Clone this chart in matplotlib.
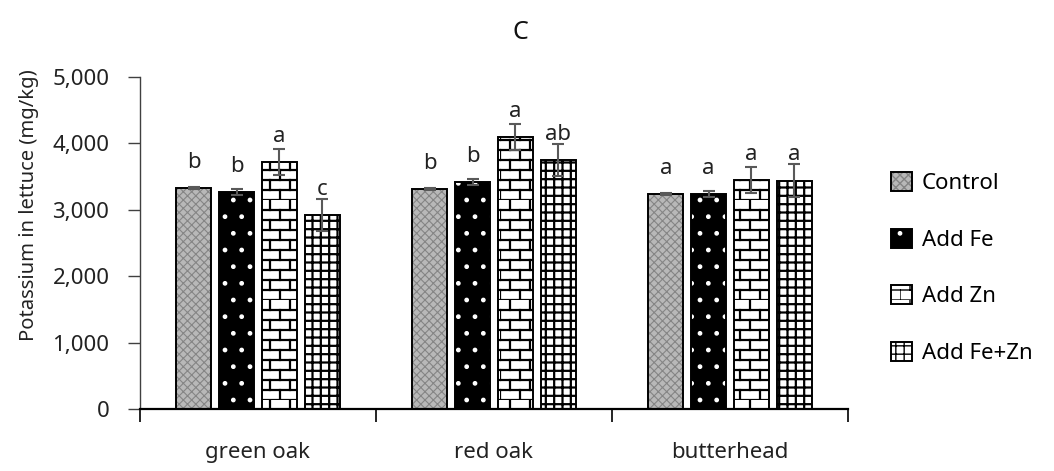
import matplotlib
matplotlib.use('Agg')
import matplotlib.pyplot as plt
from matplotlib import hatch as mhatch
from matplotlib.path import Path
from matplotlib.patches import Patch
from matplotlib.legend_handler import HandlerTuple
from matplotlib.ticker import FuncFormatter
import numpy as np

# data
cultivars = ['green oak', 'red oak', 'butterhead']
treatments = ['Control', 'Add Fe', 'Add Zn', 'Add Fe+Zn']
control = [3330, 3310, 3240]
add_fe = [3270, 3420, 3240]
add_zn = [3720, 4095, 3450]
add_fezn = [2925, 3750, 3440]
control_err = [15, 15, 20]
add_fe_err = [45, 50, 45]
add_zn_err = [190, 195, 200]
add_fezn_err = [240, 240, 245]
control_lbl = ['b', 'b', 'a']
add_fe_lbl = ['b', 'b', 'a']
add_zn_lbl = ['a', 'a', 'a']
add_fezn_lbl = ['c', 'ab', 'a']

means = [control, add_fe, add_zn, add_fezn]
errs = [control_err, add_fe_err, add_zn_err, add_fezn_err]
letters = [control_lbl, add_fe_lbl, add_zn_lbl, add_fezn_lbl]


# brick hatch ('b') - matplotlib has none
class BrickHatch(mhatch.HatchPatternBase):
    def __init__(self, hatch, density):
        n = hatch.count('b')
        self.rows = 10 * n
        self.cols = 5
        self.num_vertices = (self.rows * 2 + self.rows * self.cols * 2) if n else 0

    def set_vertices_and_codes(self, vertices, codes):
        k = 0
        for i in range(self.rows):
            y0 = i / self.rows
            y1 = (i + 1) / self.rows
            vertices[k] = (0, y0)
            vertices[k + 1] = (1, y0)
            codes[k] = Path.MOVETO
            codes[k + 1] = Path.LINETO
            k += 2
            shift = 0.5 / self.cols if i % 2 else 0.0
            for j in range(self.cols):
                xv = j / self.cols + shift
                vertices[k] = (xv, y0)
                vertices[k + 1] = (xv, y1)
                codes[k] = Path.MOVETO
                codes[k + 1] = Path.LINETO
                k += 2


mhatch._hatch_types.append(BrickHatch)
mhatch._validate_hatch_pattern = lambda h: None

# (face, hatch, hatch colour, hatch lw)
styles = [
    ('#b8b8b8', 'xxxx', '#858585', 0.8),
    ('black', '.', 'white', 1.0),
    ('white', 'b', 'black', 1.6),
    ('white', '++', 'black', 1.6),
]

plt.rcParams['font.family'] = ['Noto Sans', 'DejaVu Sans']
plt.rcParams['font.size'] = 16

fig = plt.figure(figsize=(10.54, 4.71), dpi=100)
ax = fig.add_axes([0.1328, 0.1316, 0.6717, 0.7049])

x = np.arange(len(cultivars))
pitch = 0.1814
width = 0.148
handles = []
for i, (m, e, lab, st) in enumerate(zip(means, errs, letters, styles)):
    face, hatch, hcol, hlw = st
    xs = x + (i - 1.5) * pitch
    with plt.rc_context({'hatch.linewidth': hlw}):
        ax.bar(xs, m, width, color=face, hatch=hatch, edgecolor=hcol,
               linewidth=0, zorder=2)
    ax.bar(xs, m, width, fill=False, edgecolor='black', linewidth=1.4, zorder=3)
    ax.errorbar(xs, m, yerr=e, fmt='none', ecolor='#595959', elinewidth=1.5,
                capsize=4, capthick=1.5, zorder=4)
    for xi, mi, t in zip(xs, m, lab):
        ax.annotate(t, (xi, mi), xytext=(0, 14.5), textcoords='offset points',
                    ha='center', va='baseline', color='#222222')
    with plt.rc_context({'hatch.linewidth': hlw}):
        h1 = Patch(facecolor=face, hatch=hatch, edgecolor=hcol, linewidth=0)
    h2 = Patch(fill=False, edgecolor='black', linewidth=1.4)
    handles.append((h1, h2))

ax.set_xlim(-0.5, 2.5)
ax.set_ylim(0, 5000)
ax.set_yticks(np.arange(0, 5001, 1000))
ax.yaxis.set_major_formatter(FuncFormatter(lambda v, p: f'{int(v):,}'))
ax.set_xticks(x)
ax.set_xticklabels(cultivars)
ax.set_xticks([-0.5, 0.5, 1.5, 2.5], minor=True)
ax.tick_params(axis='x', which='major', length=0, pad=24, colors='#222222')
ax.tick_params(axis='x', which='minor', length=9, width=1.2, direction='out', color='black')
ax.tick_params(axis='y', length=9, width=1, direction='out', pad=13,
               color='#404040', labelcolor='#222222')

ax.spines['top'].set_visible(False)
ax.spines['right'].set_visible(False)
ax.spines['left'].set_color('#404040')
ax.spines['left'].set_linewidth(1.0)
ax.spines['bottom'].set_color('black')
ax.spines['bottom'].set_linewidth(1.6)

ax.set_ylabel('Potassium in lettuce (mg/kg)', color='#222222', fontsize=14.5)
ax.yaxis.set_label_coords(-0.143, 0.615)
fig.text(0.494, 0.93, 'C', ha='center', va='center', fontsize=18, color='#111111')

fig.legend(handles, treatments, loc='center left', bbox_to_anchor=(0.826, 0.431),
           frameon=False, handler_map={tuple: HandlerTuple(ndivide=1)},
           handlelength=0.95, handleheight=0.95, handletextpad=0.45,
           labelspacing=1.55, fontsize=16)

fig.savefig('out.png', dpi=100)
